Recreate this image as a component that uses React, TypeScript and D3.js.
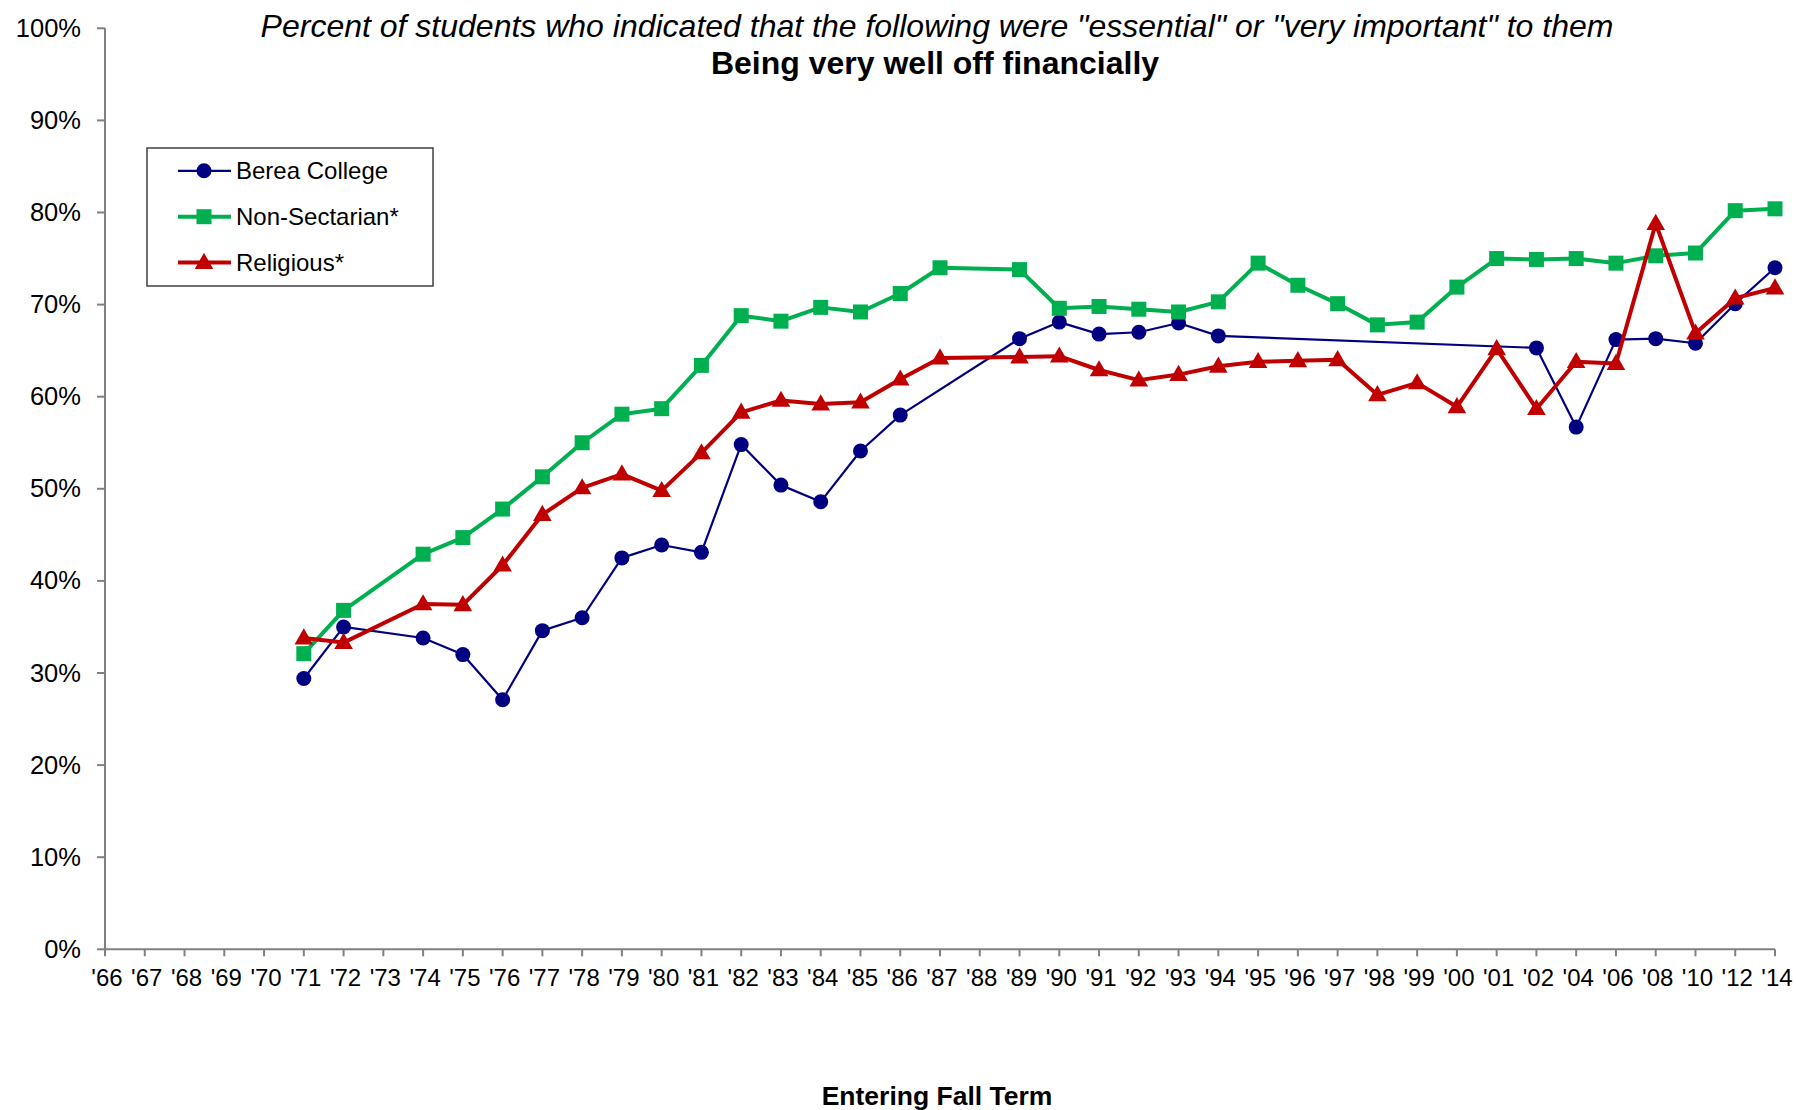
import React from "react";
import * as d3 from "d3";

const categories = [
  "'66","'67","'68","'69","'70","'71","'72","'73","'74","'75","'76","'77","'78","'79",
  "'80","'81","'82","'83","'84","'85","'86","'87","'88","'89","'90","'91","'92","'93",
  "'94","'95","'96","'97","'98","'99","'00","'01","'02","'04","'06","'08","'10","'12","'14",
];

const bereaCollege: (number | null)[] = [
  null, null, null, null, null,
  29.4, 35.0, null, 33.8, 32.0, 27.1, 34.6, 36.0, 42.5, 43.9, 43.1, 54.8, 50.4, 48.6, 54.1, 58.0,
  null, null, 66.3, 68.1, 66.8, 67.0, 68.0, 66.6,
  null, null, null, null, null, null, null,
  65.3, 56.7, 66.2, 66.3, 65.8, 70.1, 74.0,
];

const nonSectarian: (number | null)[] = [
  null, null, null, null, null,
  32.1, 36.8, null, 42.9, 44.7, 47.8, 51.3, 55.0, 58.1, 58.7, 63.4, 68.8, 68.2, 69.7, 69.2, 71.2,
  74.0, null, 73.8, 69.6, 69.8, 69.5, 69.2, 70.3, 74.5, 72.1, 70.1, 67.8, 68.1, 71.9, 75.0, 74.9,
  75.0, 74.5, 75.3, 75.6, 80.2, 80.4,
];

const religious: (number | null)[] = [
  null, null, null, null, null,
  33.8, 33.3, null, 37.5, 37.4, 41.7, 47.2, 50.1, 51.6, 49.8, 53.9, 58.3, 59.6, 59.2, 59.4, 61.9,
  64.2, null, 64.3, 64.4, 62.9, 61.8, 62.4, 63.3, 63.8, 63.9, 64.0, 60.2, 61.5, 58.9, 65.2, 58.7,
  63.8, 63.6, 78.8, 66.9, 70.7, 71.8,
];

const yTicks = [0, 10, 20, 30, 40, 50, 60, 70, 80, 90, 100];

const seriesNames = ["Berea College", "Non-Sectarian*", "Religious*"];

const FONT = "'Liberation Sans', Arial, Helvetica, sans-serif";

type Series = {
  name: string;
  values: (number | null)[];
  color: string;
  width: number;
  marker: "circle" | "square" | "triangle";
};

const series: Series[] = [
  { name: seriesNames[0], values: bereaCollege, color: "#000080", width: 2.2, marker: "circle" },
  { name: seriesNames[1], values: nonSectarian, color: "#00B050", width: 4, marker: "square" },
  { name: seriesNames[2], values: religious, color: "#C00000", width: 4, marker: "triangle" },
];

function Marker({ kind, x, y, color }: { kind: string; x: number; y: number; color: string }) {
  if (kind === "circle") return <circle cx={x} cy={y} r={7.5} fill={color} />;
  if (kind === "square") return <rect x={x - 7.5} y={y - 7.5} width={15} height={15} fill={color} />;
  const tri = d3.symbol().type(d3.symbolTriangle).size(150)();
  return <path d={tri || ""} transform={`translate(${x},${y + 1})`} fill={color} />;
}

export default function App() {
  const W = 1796;
  const H = 1110;
  const x = d3.scalePoint<string>().domain(categories).range([105, 1775]);
  const y = d3.scaleLinear().domain([0, 100]).range([949.3, 28.3]);

  const axisColor = "#808080";

  return (
    <svg
      width={W}
      height={H}
      style={{ position: "absolute", left: 0, top: 0, display: "block", background: "#fff" }}
      fontFamily={FONT}
    >
      <rect x={0} y={0} width={W} height={H} fill="#fff" />

      {/* Titles */}
      <text x={937} y={37} textAnchor="middle" fontSize={32} fontStyle="italic" fill="#000">
        Percent of students who indicated that the following were "essential" or "very important" to them
      </text>
      <text x={935} y={74} textAnchor="middle" fontSize={32} fontWeight="bold" fill="#000">
        Being very well off financially
      </text>

      {/* Y axis */}
      <line x1={105} x2={105} y1={y(0)} y2={y(100)} stroke={axisColor} strokeWidth={2} />
      {yTicks.map((t) => (
        <g key={t}>
          <line x1={97} x2={105} y1={y(t)} y2={y(t)} stroke={axisColor} strokeWidth={2} />
          <text x={81} y={y(t) + 8.5} textAnchor="end" fontSize={25.5} fill="#000">
            {t}%
          </text>
        </g>
      ))}

      {/* X axis */}
      <line x1={105} x2={1775} y1={y(0)} y2={y(0)} stroke={axisColor} strokeWidth={2} />
      {categories.map((c) => (
        <g key={c}>
          <line x1={x(c)!} x2={x(c)!} y1={y(0)} y2={y(0) + 7} stroke={axisColor} strokeWidth={2} />
          <text x={x(c)! + 2} y={986} textAnchor="middle" fontSize={24} fill="#000">
            {c}
          </text>
        </g>
      ))}
      <text x={937} y={1105} textAnchor="middle" fontSize={26.5} fontWeight="bold" fill="#000">
        Entering Fall Term
      </text>

      {/* Series */}
      {series.map((s) => {
        const pts = s.values
          .map((v, i) => ({ c: categories[i], v }))
          .filter((p) => p.v !== null) as { c: string; v: number }[];
        const line = d3
          .line<{ c: string; v: number }>()
          .x((p) => x(p.c)!)
          .y((p) => y(p.v));
        return (
          <g key={s.name}>
            <path d={line(pts) || ""} fill="none" stroke={s.color} strokeWidth={s.width} strokeLinejoin="round" />
            {pts.map((p) => (
              <Marker key={p.c} kind={s.marker} x={x(p.c)!} y={y(p.v)} color={s.color} />
            ))}
          </g>
        );
      })}

      {/* Legend */}
      <rect x={147} y={148} width={286} height={138} fill="#fff" stroke="#404040" strokeWidth={1.5} />
      {series.map((s, i) => {
        const ry = 170.8 + i * 45.9;
        return (
          <g key={s.name}>
            <line x1={178} x2={231} y1={ry} y2={ry} stroke={s.color} strokeWidth={s.width} />
            <Marker kind={s.marker} x={204} y={ry} color={s.color} />
            <text x={236} y={ry + 8.5} fontSize={24} fill="#000">
              {s.name}
            </text>
          </g>
        );
      })}
    </svg>
  );
}
